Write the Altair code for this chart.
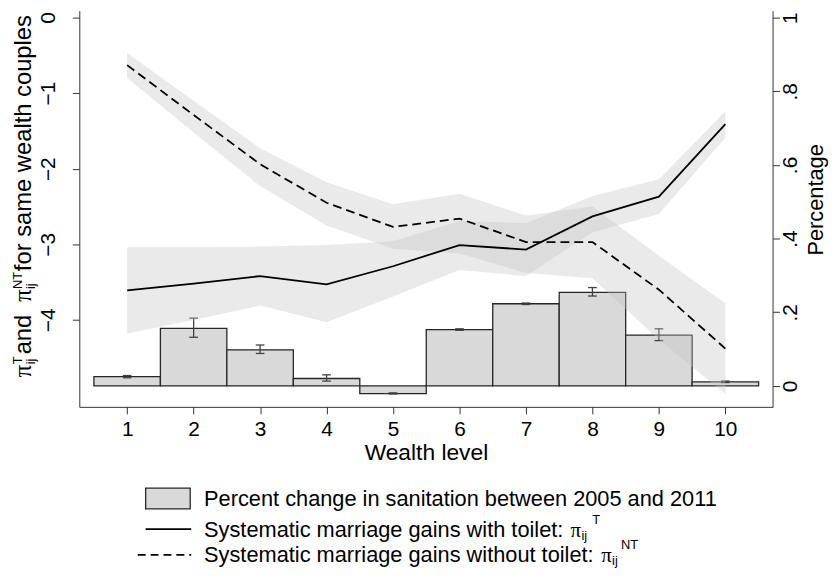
import altair as alt
import pandas as pd

FONT = "Liberation Sans"
SERIF = "Liberation Serif"

# --- data ---
levels = [1, 2, 3, 4, 5, 6, 7, 8, 9, 10]

# percent change in sanitation (right axis) with CI
san_change = [0.025, 0.156, 0.098, 0.020, -0.021, 0.153, 0.223, 0.254, 0.138, 0.011]
san_lo = [0.022, 0.132, 0.088, 0.013, -0.022, 0.151, 0.221, 0.244, 0.123, 0.009]
san_hi = [0.028, 0.184, 0.111, 0.030, -0.019, 0.155, 0.225, 0.267, 0.155, 0.013]

# marriage gains with toilet (left axis)
gain_t = [-3.61, -3.52, -3.42, -3.53, -3.29, -3.01, -3.07, -2.63, -2.37, -1.41]
gain_t_hi = [-3.04, -3.04, -3.03, -3.01, -2.96, -2.69, -2.72, -2.36, -2.14, -1.24]
gain_t_lo = [-4.18, -4.00, -3.81, -4.03, -3.69, -3.34, -3.42, -2.84, -2.60, -1.59]

# marriage gains without toilet (left axis)
gain_nt = [-0.63, -1.29, -1.94, -2.45, -2.77, -2.66, -2.97, -2.97, -3.60, -4.38]
gain_nt_hi = [-0.47, -1.10, -1.73, -2.18, -2.47, -2.33, -2.62, -2.50, -3.15, -3.78]
gain_nt_lo = [-0.80, -1.52, -2.23, -2.75, -3.06, -3.12, -3.38, -3.45, -4.26, -4.98]

left_ticks = [-4, -3, -2, -1, 0]
right_ticks = [0, 0.2, 0.4, 0.6, 0.8, 1]
legend_labels = [
    "Percent change in sanitation between 2005 and 2011",
    "Systematic marriage gains with toilet:",
    "Systematic marriage gains without toilet:",
]

df = pd.DataFrame({
    "level": levels,
    "san": san_change, "san_lo": san_lo, "san_hi": san_hi,
    "t": gain_t, "t_lo": gain_t_lo, "t_hi": gain_t_hi,
    "nt": gain_nt, "nt_lo": gain_nt_lo, "nt_hi": gain_nt_hi,
})
one = pd.DataFrame({"k": [0]})

# --- scales / axes ---
x_scale = alt.Scale(domain=[0.28, 10.71], nice=False, zero=False)
x_axis = alt.Axis(values=levels, format="d", title="Wealth level", labelAngle=0,
                  tickSize=7, labelPadding=5, titlePadding=2, grid=False)

right_scale = alt.Scale(domain=[-0.057, 1.019], nice=False, zero=False)
right_axis = alt.Axis(orient="right", values=right_ticks, title=None, grid=False,
                      labelExpr="datum.value == 0 ? '0' : datum.value == 1 ? '1' : "
                                "replace(format(datum.value, '.1f'), '0.', '.')",
                      labelAngle=270, labelAlign="center", labelBaseline="top",
                      tickSize=7, labelPadding=0)

left_scale = alt.Scale(domain=[-5.15, 0.09], nice=False, zero=False)
left_axis = alt.Axis(orient="left", values=left_ticks, title=None, grid=False,
                     labelAngle=270, labelAlign="center", labelBaseline="bottom",
                     tickSize=7, labelPadding=14)


def X(field):
    return alt.X(field, type="quantitative", scale=x_scale, axis=x_axis)


def YR(field):
    return alt.Y(field, type="quantitative", scale=right_scale, axis=right_axis)


def YL(field):
    return alt.Y(field, type="quantitative", scale=left_scale, axis=left_axis)


base = alt.Chart(df)

# bars + error bars (right axis)
bars = base.transform_calculate(
    x0="datum.level - 0.5", x1="datum.level + 0.5", zero="0"
).mark_rect(fill="#d9d9d9", stroke="#262626", strokeWidth=1.3).encode(
    x=X("x0"), x2="x1", y=YR("zero"), y2="san:Q"
)
err = base.mark_rule(color="#404040", strokeWidth=1.3).encode(
    x=X("level"), y=YR("san_lo"), y2="san_hi:Q"
)
caps = base.transform_calculate(
    c0="datum.level - 0.065", c1="datum.level + 0.065"
)
cap_lo = caps.mark_rule(color="#404040", strokeWidth=1.3).encode(
    x=X("c0"), x2="c1", y=YR("san_lo")
)
cap_hi = caps.mark_rule(color="#404040", strokeWidth=1.3).encode(
    x=X("c0"), x2="c1", y=YR("san_hi")
)
bar_layer = alt.layer(bars, err, cap_lo, cap_hi)

# confidence bands + lines (left axis)
band_nt = base.mark_area(color="#c4c4c4", opacity=0.35).encode(
    x=X("level"), y=YL("nt_hi"), y2="nt_lo:Q"
)
band_t = base.mark_area(color="#c4c4c4", opacity=0.35).encode(
    x=X("level"), y=YL("t_hi"), y2="t_lo:Q"
)
line_t = base.mark_line(color="black", strokeWidth=1.8).encode(
    x=X("level"), y=YL("t")
)
line_nt = base.mark_line(color="black", strokeWidth=1.8, strokeDash=[9, 5]).encode(
    x=X("level"), y=YL("nt")
)
gain_layer = alt.layer(band_nt, band_t, line_t, line_nt)


def note(text, x, y, size, font=FONT, angle=0, align="left", baseline="alphabetic"):
    return alt.Chart(one).mark_text(
        text=text, font=font, fontSize=size, angle=angle, align=align,
        baseline=baseline, color="black"
    ).encode(x=alt.value(x), y=alt.value(y))


# left axis title, rotated, built piece by piece for the sub/superscripts
notes = [
    note("\u03c0", -49, 370, 25, font=SERIF, angle=270),
    note("ij", -45, 357, 13, angle=270),
    note("T", -58, 357, 13, angle=270),
    note(" and ", -49, 347, 24, angle=270),
    note("\u03c0", -49, 294, 25, font=SERIF, angle=270),
    note("ij", -45, 281, 13, angle=270),
    note("NT", -58, 281, 13, angle=270),
    note(" for same wealth couples", -49, 263, 24, angle=270),
    # right axis title
    note("Percentage", 751, 191, 22, angle=270, align="center"),
    # legend text
    note(legend_labels[0], 126, 500, 22),
    note(legend_labels[1], 126, 531, 22),
    note("\u03c0", 496, 531, 21, font=SERIF),
    note("ij", 507, 534.5, 13),
    note("T", 518, 518, 13),
    note(legend_labels[2], 126, 557, 22),
    note("\u03c0", 527, 557, 21, font=SERIF),
    note("ij", 538, 559.5, 13),
    note("NT", 547, 544, 13),
]

# legend keys
key_bar = alt.Chart(one).mark_rect(fill="#d9d9d9", stroke="#262626", strokeWidth=1.3).encode(
    x=alt.value(67), x2=alt.value(112), y=alt.value(482), y2=alt.value(503)
)
key_solid = alt.Chart(one).mark_rule(color="black", strokeWidth=1.8).encode(
    x=alt.value(67), x2=alt.value(113), y=alt.value(523.5)
)
key_dash = alt.Chart(one).mark_rule(color="black", strokeWidth=1.8, strokeDash=[8, 5]).encode(
    x=alt.value(59), x2=alt.value(113), y=alt.value(549.5)
)
note_layer = alt.layer(key_bar, key_solid, key_dash, *notes)

chart = alt.layer(bar_layer, gain_layer, note_layer).resolve_scale(
    y="independent"
).properties(
    width=700,
    height=400,
    autosize=alt.AutoSizeParams(type="none"),
    padding={"left": 72, "top": 0, "right": 58, "bottom": 162},
).configure_view(
    stroke=None
).configure_axis(
    labelFont=FONT, titleFont=FONT, labelFontSize=21, titleFontSize=23,
    labelColor="black", titleColor="black", titleFontWeight="normal",
    domainColor="#333333", tickColor="#333333", domainWidth=1, tickWidth=1,
)

chart.save("out.html", embed_options={"renderer": "svg", "actions": False})
